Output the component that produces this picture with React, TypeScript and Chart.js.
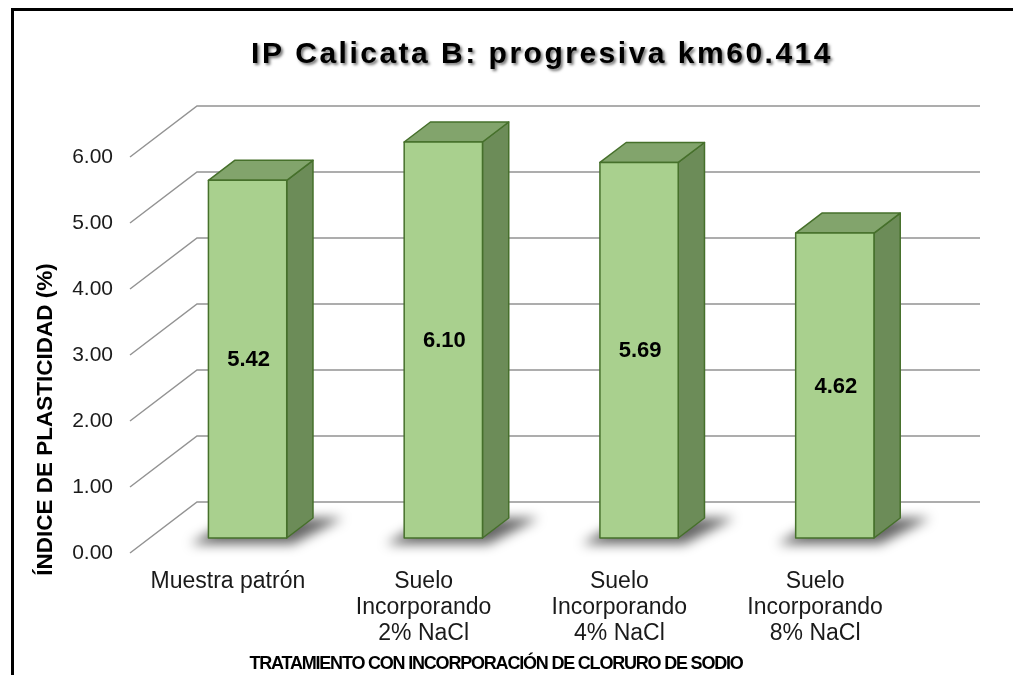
import React, { useEffect, useRef } from "react";
import { Chart, registerables } from "chart.js";

Chart.register(...registerables);

// ---------------- data ----------------
const categories: string[][] = [
  ["Muestra patrón"],
  ["Suelo", "Incorporando", "2% NaCl"],
  ["Suelo", "Incorporando", "4% NaCl"],
  ["Suelo", "Incorporando", "8% NaCl"],
];
const ipValues: number[] = [5.42, 6.1, 5.69, 4.62];
const yMin = 0;
const yMax = 6;
const yStep = 1;

const chartTitle = "IP Calicata B: progresiva km60.414";
const yTitle = "ÍNDICE DE PLASTICIDAD (%)";
const xTitle = "TRATAMIENTO CON INCORPORACIÓN DE CLORURO DE SODIO";

// ---------------- style ----------------
const FONT = '"Liberation Sans", Arial, sans-serif';
const DEPTH_DX = 67;
const DEPTH_DY = -51;
const BAR_D1 = 0.294;
const BAR_D2 = 0.686;
const BAR_FRAC = 0.4;
const COL_FRONT = "#A9D08E";
const COL_TOP = "#82A46C";
const COL_SIDE = "#6C8C58";
const COL_EDGE = "#46702B";
const COL_GRID = "#939393";

const threeD = {
  id: "threeD",
  beforeDraw(chart: any) {
    const ctx = chart.ctx;
    ctx.save();
    ctx.fillStyle = "#ffffff";
    ctx.fillRect(0, 0, chart.width, chart.height);
    // frame
    ctx.fillStyle = "#000000";
    ctx.fillRect(11, 8, chart.width - 11, 3);
    ctx.fillRect(11, 8, 3, chart.height - 8);
    // title
    ctx.font = `bold 30px ${FONT}`;
    (ctx as any).letterSpacing = "2.5px";
    ctx.textAlign = "center";
    ctx.textBaseline = "alphabetic";
    ctx.shadowColor = "rgba(0,0,0,0.55)";
    ctx.shadowBlur = 3;
    ctx.shadowOffsetX = 2;
    ctx.shadowOffsetY = 2;
    ctx.fillStyle = "#000000";
    ctx.fillText(chartTitle, 542, 63);
    ctx.restore();

    ctx.save();
    ctx.fillStyle = "#000000";
    ctx.font = `bold 22.5px ${FONT}`;
    (ctx as any).letterSpacing = "0px";
    ctx.textAlign = "center";
    ctx.textBaseline = "alphabetic";
    ctx.translate(52, 419.5);
    ctx.rotate(-Math.PI / 2);
    ctx.fillText(yTitle, 0, 0);
    ctx.restore();

    ctx.save();
    ctx.fillStyle = "#000000";
    ctx.font = `bold 18px ${FONT}`;
    (ctx as any).letterSpacing = "-1.2px";
    ctx.textAlign = "center";
    ctx.textBaseline = "middle";
    ctx.fillText(xTitle, 496, 664);
    ctx.restore();
  },
  beforeDatasetsDraw(chart: any) {
    const ctx = chart.ctx;
    const xs = chart.scales.x;
    const ys = chart.scales.y;
    const area = chart.chartArea;
    // walls: diagonals + back gridlines
    ctx.save();
    ctx.strokeStyle = COL_GRID;
    ctx.lineWidth = 1.5;
    for (let t = yMin; t <= yMax + 1e-9; t += yStep) {
      const yf = ys.getPixelForValue(t);
      ctx.beginPath();
      ctx.moveTo(area.left, yf);
      ctx.lineTo(area.left + DEPTH_DX, yf + DEPTH_DY);
      ctx.lineTo(area.right + DEPTH_DX, yf + DEPTH_DY);
      ctx.stroke();
    }
    ctx.restore();

    const catW = (area.right - area.left) / categories.length;
    const w = catW * BAR_FRAC;
    const y0 = ys.getPixelForValue(yMin);
    // shadows
    ipValues.forEach((v, i) => {
      const cx = xs.getPixelForValue(i);
      const xl = cx - w / 2;
      const xr = cx + w / 2;
      ctx.save();
      ctx.filter = "blur(6px)";
      ctx.fillStyle = "rgba(0,0,0,0.6)";
      ctx.beginPath();
      ctx.moveTo(xl - 18 + DEPTH_DX * BAR_D1, y0 + 6 + DEPTH_DY * BAR_D1);
      ctx.lineTo(xr + 6 + DEPTH_DX * BAR_D1, y0 + 6 + DEPTH_DY * BAR_D1);
      ctx.lineTo(xr + 30 + DEPTH_DX * BAR_D2, y0 + DEPTH_DY * BAR_D2);
      ctx.lineTo(xl + DEPTH_DX * BAR_D2, y0 + DEPTH_DY * BAR_D2);
      ctx.closePath();
      ctx.fill();
      ctx.restore();
    });
    // bars
    ipValues.forEach((v, i) => {
      const cx = xs.getPixelForValue(i);
      const vv = Math.min(Math.max(v, yMin), yMax);
      const yt = ys.getPixelForValue(vv);
      const xl = cx - w / 2 + DEPTH_DX * BAR_D1;
      const xr = cx + w / 2 + DEPTH_DX * BAR_D1;
      const yb = y0 + DEPTH_DY * BAR_D1;
      const ytop = yt + DEPTH_DY * BAR_D1;
      const ddx = DEPTH_DX * (BAR_D2 - BAR_D1);
      const ddy = DEPTH_DY * (BAR_D2 - BAR_D1);
      ctx.save();
      ctx.strokeStyle = COL_EDGE;
      ctx.lineWidth = 1.5;
      ctx.lineJoin = "round";
      // side
      ctx.beginPath();
      ctx.moveTo(xr, yb);
      ctx.lineTo(xr + ddx, yb + ddy);
      ctx.lineTo(xr + ddx, ytop + ddy);
      ctx.lineTo(xr, ytop);
      ctx.closePath();
      ctx.fillStyle = COL_SIDE;
      ctx.fill();
      ctx.stroke();
      // top
      ctx.beginPath();
      ctx.moveTo(xl, ytop);
      ctx.lineTo(xr, ytop);
      ctx.lineTo(xr + ddx, ytop + ddy);
      ctx.lineTo(xl + ddx, ytop + ddy);
      ctx.closePath();
      ctx.fillStyle = COL_TOP;
      ctx.fill();
      ctx.stroke();
      // front
      ctx.beginPath();
      ctx.rect(xl, ytop, xr - xl, yb - ytop);
      ctx.fillStyle = COL_FRONT;
      ctx.fill();
      ctx.stroke();
      // label
      ctx.fillStyle = "#000000";
      ctx.font = `bold 22px ${FONT}`;
      ctx.textAlign = "center";
      ctx.textBaseline = "middle";
      ctx.fillText(v.toFixed(2), (xl + xr) / 2 + 1, (ytop + yb) / 2 + 1);
      ctx.restore();
    });
  },
};

export default function App() {
  const ref = useRef<HTMLCanvasElement | null>(null);
  useEffect(() => {
    if (!ref.current) return;
    const chart = new Chart(ref.current, {
      type: "bar",
      data: {
        labels: categories,
        datasets: [
          {
            label: "IP",
            data: ipValues,
            backgroundColor: "rgba(0,0,0,0)",
            borderWidth: 0,
          },
        ],
      },
      options: {
        responsive: false,
        animation: false,
        devicePixelRatio: 1,
        layout: { padding: { left: 0, top: 157, right: 100, bottom: 0 } },
        plugins: {
          legend: { display: false },
          title: { display: false },
          tooltip: { enabled: false },
        },
        scales: {
          x: {
            type: "category",
            grid: { display: false, drawTicks: false },
            border: { display: false },
            ticks: {
              color: "#1a1a1a",
              padding: 15,
              maxRotation: 0,
              autoSkip: false,
              font: { family: FONT, size: 23, lineHeight: 1.15 },
            },
            afterFit: (s: any) => {
              s.height = 122;
            },
          },
          y: {
            min: yMin,
            max: yMax,
            grid: { display: false, drawTicks: false },
            border: { display: false },
            ticks: {
              stepSize: yStep,
              color: "#1a1a1a",
              padding: 17,
              font: { family: FONT, size: 21 },
              callback: (v: any) => Number(v).toFixed(2),
            },
            afterFit: (s: any) => {
              s.width = 130;
            },
          },
        },
      },
      plugins: [threeD],
    });
    return () => chart.destroy();
  }, []);
  return (
    <div style={{ position: "absolute", left: 0, top: 0, width: 1013, height: 675 }}>
      <canvas ref={ref} width={1013} height={675} style={{ width: 1013, height: 675, display: "block" }} />
    </div>
  );
}
